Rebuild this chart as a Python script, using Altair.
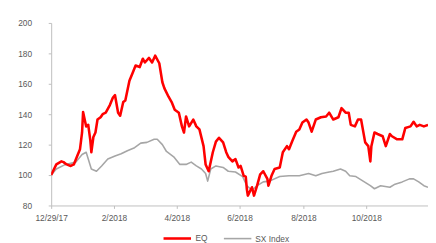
import altair as alt
import pandas as pd

series_names = ["EQ", "SX Index"]

eq_days = [0, 5, 10, 12, 15, 19, 22, 25, 28, 30, 31, 33, 34, 36, 38, 39, 41, 43, 45, 48,
           50, 53, 57, 60, 62, 65, 67, 70, 72, 76, 79, 82, 86, 89, 91, 95, 98, 101, 105, 108,
           110, 114, 117, 120, 124, 127, 129, 131, 134, 138, 141, 144, 148, 150, 153, 157, 160, 163, 167, 170,
           172, 176, 179, 182, 184, 187, 189, 190, 191, 195, 197, 200, 203, 206, 210, 211, 214, 217, 222, 225,
           229, 231, 234, 238, 241, 244, 248, 250, 253, 257, 262, 267, 270, 274, 279, 282, 286, 289, 291, 295,
           298, 301, 305, 308, 310, 311, 314, 317, 322, 325, 329, 331, 336, 341, 344, 349, 352, 355, 358, 362, 366]
eq_vals = [100, 107, 109, 108.5, 107, 106, 107, 112, 117, 128, 141.5, 135, 132, 133, 123, 115, 125, 128, 136.5, 138,
           140, 141, 146, 151, 152.5, 141, 139, 148, 149, 162, 167, 172, 171, 176.5, 174, 177, 174, 178.5, 173.5, 161,
           157, 151.5, 148, 143, 141, 132, 128, 138.5, 132, 136.5, 132, 130, 119, 107, 102.5, 115, 122, 124.5, 121.5, 115,
           112, 109, 110.5, 105, 106, 99.5, 99, 91, 86.5, 92, 86.5, 93, 100.5, 102.5, 97.5, 93, 99.5, 104, 105, 115,
           119, 117, 122, 128.5, 130, 134.5, 136.5, 134.5, 128.5, 136.5, 138, 138.5, 141, 136.5, 138, 144, 141, 141, 133, 132,
           136.5, 136.5, 121.5, 119, 109, 119, 128, 127, 125.5, 119, 127, 125.5, 123.5, 123.5, 131, 132, 135, 132, 133, 132, 133]

idx_days = [0, 5, 14, 24, 30, 34, 39, 44, 49, 55, 62, 68, 74, 81, 87, 93, 100, 103, 108, 112,
            119, 125, 131, 136, 141, 146, 150, 152, 155, 160, 167, 172, 179, 186, 190, 195, 200, 206, 212, 222,
            231, 241, 250, 257, 263, 270, 274, 281, 286, 290, 296, 303, 310, 314, 320, 329, 334, 341, 348, 352,
            357, 362, 366]
idx_vals = [100, 104, 107, 108.5, 113.5, 115, 104, 102.5, 106, 110.5, 112.5, 114, 116, 118, 121, 121.5, 123.5, 123.5, 120, 115.5,
            112, 107, 107, 108.5, 106, 104, 101, 96, 104, 106, 105, 102.5, 102, 99, 93, 90, 93, 95.5, 96, 99,
            99.5, 99.5, 101, 99.5, 101, 102, 102.5, 104, 102.5, 99.5, 99, 96, 93, 91, 93, 92, 94, 95.5, 97.5, 97.5,
            95.5, 93, 92]

tick_days = [0, 61, 122, 183, 245, 306]
tick_labels = ["12/29/17", "2/2018", "4/2018", "6/2018", "8/2018", "10/2018"]
y_ticks = [80, 100, 120, 140, 160, 180, 200]

df = pd.concat([
    pd.DataFrame({"day": idx_days, "value": idx_vals, "series": series_names[1]}),
    pd.DataFrame({"day": eq_days, "value": eq_vals, "series": series_names[0]}),
], ignore_index=True)

label_expr = "''"
for d, lab in reversed(list(zip(tick_days, tick_labels))):
    label_expr = f"datum.value == {d} ? '{lab}' : ({label_expr})"

FONT = "Liberation Sans"
AX = "#BFBFBF"
TXT = "#595959"

legend_kw = dict(title=None, orient="none", direction="horizontal",
                 legendX=113, legendY=204, symbolType="stroke",
                 symbolSize=784, labelFont=FONT, labelFontSize=8.5,
                 labelColor=TXT, labelOffset=3, columnPadding=12, padding=0)

chart = alt.Chart(df).mark_line(strokeJoin="round", clip=True).encode(
    x=alt.X("day:Q",
            scale=alt.Scale(domain=[0, 366], nice=False, zero=False),
            axis=alt.Axis(values=tick_days, labelExpr=label_expr, title=None, grid=False,
                          domainColor=AX, tickColor=AX, tickSize=3, labelPadding=5,
                          labelFont=FONT, labelFontSize=8.5, labelColor=TXT,
                          labelOverlap=False, labelFlush=False)),
    y=alt.Y("value:Q",
            scale=alt.Scale(domain=[80, 200], nice=False, zero=False),
            axis=alt.Axis(values=y_ticks, title=None, grid=False, format="d",
                          domainColor=AX, tickColor=AX, tickSize=3, labelPadding=17,
                          labelAlign="right", labelBaseline="middle",
                          labelFont=FONT, labelFontSize=8.5, labelColor=TXT)),
    color=alt.Color("series:N",
                    scale=alt.Scale(domain=series_names, range=["#FF0000", "#A6A6A6"]),
                    legend=alt.Legend(**legend_kw)),
    strokeWidth=alt.StrokeWidth("series:N",
                                scale=alt.Scale(domain=series_names, range=[2.6, 1.6]),
                                legend=alt.Legend(**legend_kw)),
).properties(
    width=384, height=186,
    autosize=alt.AutoSizeParams(type="none"),
    padding={"left": 44, "top": 13, "right": 0, "bottom": 36},
).configure_view(stroke=None)

chart.save("out.html", embed_options={"renderer": "svg", "actions": False})
